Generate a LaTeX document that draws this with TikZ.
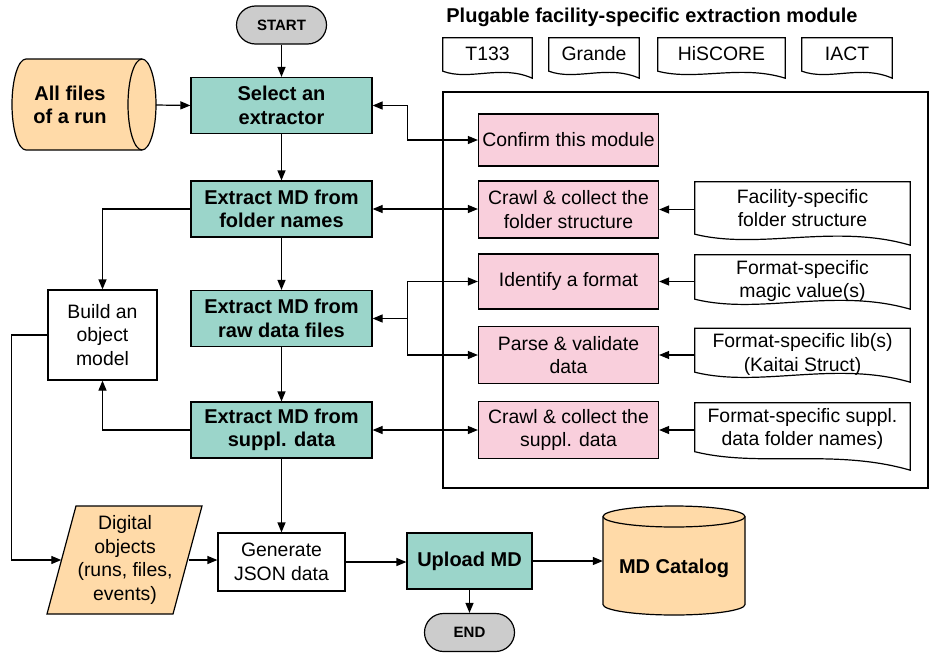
\documentclass[tikz,border=0pt]{standalone}
\usepackage{fontspec}
\setmainfont{Liberation Sans}
\usetikzlibrary{arrows.meta,calc}
\definecolor{tealbox}{HTML}{9BD5CA}
\definecolor{pinkbox}{HTML}{F9CFDC}
\definecolor{orangebox}{HTML}{FFDAA8}
\definecolor{termgray}{HTML}{CCCCCC}
% document shape: node, left corner, right corner, wave up, wave down
\newcommand{\docshape}[5]{%
  \draw[line width=1.2pt] (#1.north west) -- (#1.north east) -- ($(#1.south east)+(0,#3)$)
    .. controls ($(#1.south east)!0.35!(#1.south west)+(0,#3-#4)$)
    and ($(#1.south east)!0.7!(#1.south west)+(0,#2+#5)$)
    .. ($(#1.south west)+(0,#2)$) -- cycle;}

\begin{document}
\begin{tikzpicture}[x=1pt,y=-1pt,
    >={Triangle[length=10pt,width=8pt]},
    every node/.style={font=\fontsize{19.4}{23.5}\selectfont, align=center, inner sep=0pt},
    flow/.style={draw, line width=1.2pt, fill=tealbox, font=\bfseries\fontsize{20}{23.5}\selectfont,
      minimum width=181, minimum height=56},
    task/.style={draw, line width=1.2pt, fill=pinkbox, minimum width=180, minimum height=57},
    plain/.style={draw, line width=1.2pt, fill=white},
    term/.style={draw, line width=1.2pt, fill=termgray, rounded corners=19pt,
      font=\bfseries\fontsize{15}{18}\selectfont, minimum width=90, minimum height=38},
    docnode/.style={minimum width=215, minimum height=52},
    topdoc/.style={minimum height=32},
    conn/.style={line width=1.2pt}]
  \useasboundingbox[fill=white] (0,0) rectangle (931,656);

  %storage shapes
  \draw[line width=1.2pt, fill=orangebox] (26,59) -- (142,59)
    arc[start angle=90, end angle=-90, x radius=14pt, y radius=45.5pt] -- (26,150)
    arc[start angle=-90, end angle=-270, x radius=14pt, y radius=45.5pt] -- cycle;
  \draw[line width=1.2pt] (142,59) arc[start angle=90, end angle=270, x radius=14pt, y radius=45.5pt];
  \draw[line width=1.2pt, fill=orangebox] (603,516.5) -- (603,604.5)
    arc[start angle=180, end angle=360, x radius=71pt, y radius=10.5pt] -- (745,516.5)
    arc[start angle=0, end angle=180, x radius=71pt, y radius=10.5pt] -- cycle;
  \draw[line width=1.2pt] (603,516.5) arc[start angle=180, end angle=360, x radius=71pt, y radius=10.5pt];
  \draw[line width=1.2pt, fill=orangebox] (47,614) -- (76,506) -- (202,506) -- (173,614) -- cycle;

  %main column
  \node[term] (start) at (281.5,25) {START};
  \node[flow] (select) at (281.5,105.5) {Select an\\extractor};
  \node[flow] (folder) at (281.5,209) {Extract MD from\\folder names};
  \node[flow] (raw) at (281.5,318.5) {Extract MD from\\raw data files};
  \node[flow] (suppl) at (281.5,430) {Extract MD from\\suppl. data};
  \node[font=\bfseries\fontsize{20}{23.5}\selectfont] (files) at (70,105) {All files\\of a run};
  \coordinate (filesr) at (156,105);
  \node[plain, minimum width=109, minimum height=90] (build) at (102.5,335) {Build an\\object\\model};
  \node[minimum width=127, minimum height=108] (digital) at (125,560) {Digital\\objects\\(runs, files,\\events)};
  \node[plain, minimum width=127, minimum height=58] (json) at (281.5,562) {Generate\\JSON data};
  \node[flow, minimum width=125] (upload) at (469.5,561) {Upload MD};
  \node[term] (end) at (469.5,632.5) {END};
  \node[font=\bfseries\fontsize{20}{23.5}\selectfont, minimum width=142] (cat) at (674,568) {MD Catalog};

  %extraction module
  \node[font=\bfseries\fontsize{20}{23.5}\selectfont] (title) at (652,17) {Plugable facility-specific extraction module};
  \foreach \nm/\txt/\cx/\w in {t133/T133/487.5/89, grande/Grande/594/90, hiscore/HiSCORE/721.5/127, iact/IACT/847/90} {
    \node[topdoc, minimum width=\w] (\nm) at (\cx,54) {\txt};
    \docshape{\nm}{1}{8}{14}{10}
  }
  \node[draw, line width=2.6pt, minimum width=485, minimum height=396] (module) at (685.5,290) {};
  \node[task, minimum height=52] (confirm) at (568.5,140) {Confirm this module};
  \node[task] (crawlf) at (568.5,209.5) {Crawl \& collect the\\folder structure};
  \node[task, minimum height=55] (identify) at (568.5,281.5) {Identify a format};
  \node[task] (parse) at (568.5,355) {Parse \& validate\\data};
  \node[task] (crawls) at (568.5,430) {Crawl \& collect the\\suppl. data};
  \node[docnode] (dfolder) at (802.5,208) {Facility-specific\\folder structure};
  \node[docnode] (dmagic) at (802.5,281) {Format-specific\\magic value(s)};
  \node[docnode] (dlib) at (802.5,354.5) {Format-specific lib(s)\\(Kaitai Struct)};
  \node[docnode] (dsuppl) at (802.5,429) {Format-specific suppl.\\data folder names)};
  \docshape{dfolder}{0}{11}{22}{16}
  \docshape{dmagic}{-8}{2}{22}{16}
  \docshape{dlib}{-8.5}{1.5}{22}{16}
  \docshape{dsuppl}{-3.5}{15}{22}{16}

  %connectors
  \draw[conn,->] (start) -- (select);
  \draw[conn,->] (select) -- (folder);
  \draw[conn,->] (folder) -- (raw);
  \draw[conn,->] (raw) -- (suppl);
  \draw[conn,->] (suppl) -- (json);
  \draw[conn,->] (filesr) -- (select.west);
  \draw[conn,<->] (select.east) -- ++(35,0) |- (confirm.west);
  \draw[conn,<->] (folder.east) -- (folder.east -| crawlf.west);
  \draw[conn,<-] (raw.east) -- ++(35,0) coordinate (fork);
  \draw[conn,->] (fork) |- (identify.west);
  \draw[conn,->] (fork) |- (parse.west);
  \draw[conn,<->] (suppl.east) -- (crawls.west);
  \foreach \d/\tgt in {dfolder/crawlf, dmagic/identify, dlib/parse, dsuppl/crawls}
    \draw[conn,->] (\d.west |- \tgt) -- (\tgt.east);
  \draw[conn,->] (folder.west) -| (build.north);
  \draw[conn,->] (suppl.west) -| (build.south);
  \draw[conn,->] (build.west) -- ++(-36,0) |- (digital.west);
  \draw[conn,->] (digital.east) -- (digital.east -| json.west);
  \draw[conn,->] (json.east) -- (json.east -| upload.west);
  \draw[conn,->] (upload.east) -- (upload.east -| cat.west);
  \draw[conn,->] (upload) -- (end);
\end{tikzpicture}
\end{document}
